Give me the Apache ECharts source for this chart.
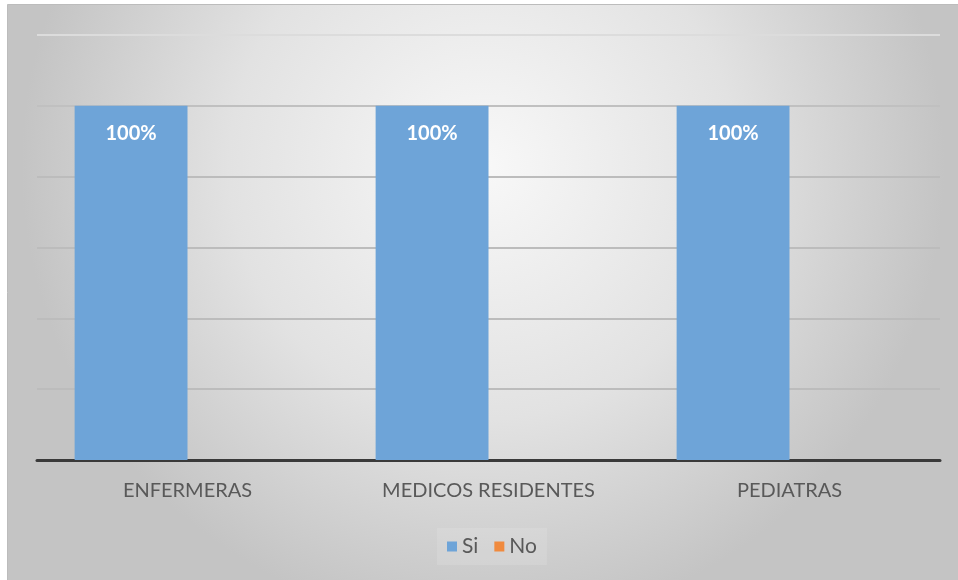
<!DOCTYPE html>
<html>
<head>
<meta charset="utf-8">
<script src="https://cdn.jsdelivr.net/npm/echarts@6/dist/echarts.min.js"></script>
<style>
  html, body { margin: 0; padding: 0; background: #ffffff; }
  #chart { width: 958px; height: 580px; }
</style>
</head>
<body>
<div id="chart"></div>
<script>
// Categories and percentage values per group
const categories = ['ENFERMERAS', 'MEDICOS RESIDENTES', 'PEDIATRAS'];
const siValues = [100, 100, 100];
const noValues = [0, 0, 0];
const seriesNames = ['Si', 'No'];

const chart = echarts.init(document.getElementById('chart'), null, { renderer: 'canvas' });

const labelFont = 'Lato, "Open Sans", "Noto Sans", sans-serif';

chart.setOption({
  animation: false,
  graphic: [{
    type: 'rect',
    z: -10,
    silent: true,
    shape: { x: 7.5, y: 4.5, width: 951, height: 576 },
    style: {
      fill: new echarts.graphic.RadialGradient(0.5, 0.28, 0.8, [
        { offset: 0, color: '#f8f8f8' },
        { offset: 0.55, color: '#e2e2e2' },
        { offset: 1, color: '#c4c4c4' }
      ]),
      stroke: '#bcbcbc',
      lineWidth: 1
    }
  }],
  grid: { left: 37, right: 18, top: 35, bottom: 120, containLabel: false },
  legend: {
    data: seriesNames,
    bottom: 15,
    left: 437,
    itemWidth: 10,
    itemHeight: 10,
    itemGap: 16,
    icon: 'rect',
    padding: [8, 10],
    backgroundColor: 'rgba(255,255,255,0.12)',
    textStyle: { color: '#595959', fontSize: 21, fontFamily: labelFont }
  },
  xAxis: {
    type: 'category',
    data: categories,
    axisLine: { lineStyle: { color: '#3a3a3a', width: 3 } },
    axisTick: { show: false },
    axisLabel: { color: '#595959', fontSize: 20, fontFamily: labelFont, margin: 21 }
  },
  yAxis: {
    type: 'value',
    min: 0,
    max: 120,
    interval: 20,
    axisLabel: { show: false },
    axisLine: { show: false },
    axisTick: { show: false },
    splitLine: {
      lineStyle: {
        color: ['#bcbcbc', '#bcbcbc', '#bcbcbc', '#bcbcbc', '#bcbcbc', '#c0c0c0', '#dcdcdc'],
        width: 2
      }
    }
  },
  series: [
    {
      name: seriesNames[0],
      type: 'bar',
      data: siValues,
      barGap: '0%',
      barCategoryGap: '25%',
      itemStyle: { color: '#6ea4d8' },
      label: {
        show: true,
        position: 'insideTop',
        distance: 18,
        color: '#ffffff',
        fontWeight: 'bold',
        fontSize: 20,
        fontFamily: labelFont,
        formatter: p => p.value + '%'
      }
    },
    {
      name: seriesNames[1],
      type: 'bar',
      data: noValues,
      barGap: '0%',
      barCategoryGap: '25%',
      itemStyle: { color: '#f08a3e' }
    }
  ]
});
</script>
</body>
</html>
